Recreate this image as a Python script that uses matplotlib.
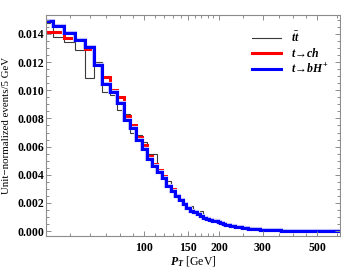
import numpy as np
import matplotlib
matplotlib.use('Agg')
import matplotlib.pyplot as plt
from matplotlib.lines import Line2D
from matplotlib.ticker import FixedLocator, MultipleLocator, NullFormatter, FormatStrFormatter

plt.rcParams['font.family'] = 'Liberation Serif'
plt.rcParams['font.weight'] = 'bold'
plt.rcParams['mathtext.fontset'] = 'custom'
plt.rcParams['mathtext.rm'] = 'Liberation Serif:bold'
plt.rcParams['mathtext.it'] = 'Liberation Serif:italic:bold'
plt.rcParams['mathtext.bf'] = 'Liberation Serif:bold'

# bins de 5 GeV (centros 40 ... 615 GeV)
bin_width = 5
bin_centers = np.arange(40, 620, bin_width)

# eventos normalizados (x 1e-3)
ttbar = [14.75, 13.80, 13.40, 12.85, 10.85, 12.00, 9.90, 9.70, 8.60, 8.30,
         7.00, 6.80, 6.30, 5.50, 5.50, 4.30, 3.80, 3.55, 2.85, 2.40,
         2.30, 2.05, 1.65, 1.75, 1.30, 1.20, 1.45, 0.95, 0.85, 0.80,
         0.72, 0.85, 0.80, 0.55, 0.50, 0.45, 0.38, 0.34, 0.30, 0.42,
         0.26, 0.24, 0.22, 0.20, 0.18, 0.16, 0.15, 0.26, 0.12, 0.11,
         0.10, 0.10, 0.09, 0.08, 0.075, 0.07, 0.065, 0.06, 0.055, 0.05,
         0.046, 0.042, 0.04, 0.036, 0.033, 0.03, 0.028, 0.026, 0.024, 0.022,
         0.02, 0.019, 0.017, 0.016, 0.015, 0.014, 0.013, 0.012, 0.011, 0.01,
         0.01, 0.009, 0.009, 0.008, 0.008, 0.007, 0.007, 0.006, 0.006, 0.006,
         0.005, 0.005, 0.005, 0.004, 0.004, 0.004, 0.004, 0.003, 0.003, 0.003,
         0.003, 0.003, 0.002, 0.002, 0.002, 0.002, 0.002, 0.002, 0.002, 0.001,
         0.001, 0.001, 0.001, 0.001, 0.001, 0.001]

t_ch = [14.15, 14.15, 13.75, 13.65, 12.90, 11.90, 10.95, 10.00, 9.50, 8.20,
        7.55, 6.70, 6.10, 5.30, 4.75, 4.30, 3.90, 3.30, 2.95, 2.55,
        2.25, 1.95, 1.70, 1.50, 1.35, 1.20, 1.08, 0.98, 0.90, 0.82,
        0.76, 0.70, 0.63, 0.57, 0.51, 0.46, 0.41, 0.37, 0.34, 0.31,
        0.28, 0.26, 0.24, 0.22, 0.20, 0.18, 0.16, 0.145, 0.13, 0.12,
        0.11, 0.10, 0.09, 0.083, 0.077, 0.070, 0.065, 0.059, 0.054, 0.050,
        0.045, 0.041, 0.038, 0.035, 0.032, 0.030, 0.027, 0.025, 0.023, 0.021,
        0.020, 0.018, 0.017, 0.016, 0.015, 0.013, 0.012, 0.012, 0.011, 0.010,
        0.009, 0.009, 0.008, 0.008, 0.007, 0.007, 0.006, 0.006, 0.006, 0.005,
        0.005, 0.005, 0.004, 0.004, 0.004, 0.004, 0.003, 0.003, 0.003, 0.003,
        0.003, 0.002, 0.002, 0.002, 0.002, 0.002, 0.002, 0.002, 0.001, 0.001,
        0.001, 0.001, 0.001, 0.001, 0.001, 0.001]

t_bH = [14.95, 14.60, 14.05, 13.55, 13.05, 11.80, 10.45, 9.90, 9.10, 7.90,
        7.35, 6.50, 5.80, 5.15, 4.60, 4.20, 3.80, 3.20, 2.85, 2.50,
        2.20, 1.90, 1.62, 1.45, 1.32, 1.18, 1.05, 0.95, 0.88, 0.80,
        0.74, 0.68, 0.62, 0.56, 0.50, 0.45, 0.40, 0.36, 0.33, 0.30,
        0.27, 0.25, 0.23, 0.21, 0.19, 0.17, 0.155, 0.14, 0.13, 0.12,
        0.11, 0.10, 0.092, 0.085, 0.078, 0.072, 0.066, 0.060, 0.055, 0.050,
        0.046, 0.042, 0.039, 0.036, 0.033, 0.030, 0.028, 0.026, 0.024, 0.022,
        0.020, 0.019, 0.018, 0.016, 0.015, 0.014, 0.013, 0.012, 0.011, 0.010,
        0.010, 0.009, 0.009, 0.008, 0.008, 0.007, 0.007, 0.006, 0.006, 0.006,
        0.005, 0.005, 0.005, 0.004, 0.004, 0.004, 0.004, 0.003, 0.003, 0.003,
        0.003, 0.003, 0.002, 0.002, 0.002, 0.002, 0.002, 0.002, 0.002, 0.001,
        0.001, 0.001, 0.001, 0.001, 0.001, 0.001]

x_ticks = [100, 150, 200, 300, 500]
x_minor = [50, 60, 70, 80, 90, 110, 120, 130, 140, 160, 170, 180, 190,
           250, 350, 400, 450, 600]

edges = np.append(bin_centers - bin_width / 2, bin_centers[-1] + bin_width / 2)

fig = plt.figure(figsize=(3.41, 2.70), dpi=100)
ax = fig.add_axes([46 / 341, 34 / 270, 294 / 341, 221 / 270])

ax.stairs(np.array(ttbar) * 1e-3, edges, color='#3a3a3a', lw=0.8)
ax.stairs(np.array(t_ch) * 1e-3, edges, color='red', lw=2.2)
ax.stairs(np.array(t_bH) * 1e-3, edges, color='#c4c4ff', lw=3.0)
ax.stairs(np.array(t_bH) * 1e-3, edges, color='blue', lw=2.2)

ax.set_xscale('log')
ax.set_xlim(40, 617)
ax.set_ylim(-0.000355, 0.01535)

ax.xaxis.set_major_locator(FixedLocator(x_ticks))
ax.set_xticklabels([str(v) for v in x_ticks])
ax.xaxis.set_minor_locator(FixedLocator(x_minor))
ax.xaxis.set_minor_formatter(NullFormatter())
ax.yaxis.set_major_locator(MultipleLocator(0.002))
ax.yaxis.set_minor_locator(MultipleLocator(0.0005))
ax.yaxis.set_major_formatter(FormatStrFormatter('%.3f'))

ax.tick_params(which='both', direction='in', top=True, right=True,
               color='#8c8c8c', width=0.7, labelsize=8.5)
ax.tick_params(which='major', length=3.6)
ax.tick_params(which='minor', length=2)
ax.tick_params(axis='y', pad=1.5)
ax.tick_params(axis='x', pad=4.5)
for s in ax.spines.values():
    s.set_color('#8c8c8c')
    s.set_linewidth(0.8)

ax.set_xlabel(r'$P_T$ [GeV]', fontsize=8.5)
ax.xaxis.set_label_coords(0.5, -0.085)
ax.set_ylabel('Unit\u2212normalized events/5 GeV', fontsize=7.8)
ax.yaxis.set_label_coords(-0.118, 0.5)

handles = [Line2D([], [], color='#3a3a3a', lw=0.8),
           Line2D([], [], color='red', lw=2.2),
           Line2D([], [], color='blue', lw=2.2)]
labels = [r'$t\bar{t}$', r'$t\!\rightarrow\! ch$', r'$t\!\rightarrow\! bH^{+}$']
ax.legend(handles, labels, loc='upper left', bbox_to_anchor=(0.70, 0.93),
          frameon=False, fontsize=8.5, handlelength=2.5, handletextpad=0.85,
          labelspacing=0.22, borderpad=0, borderaxespad=0)

fig.savefig('out.png', dpi=100)
